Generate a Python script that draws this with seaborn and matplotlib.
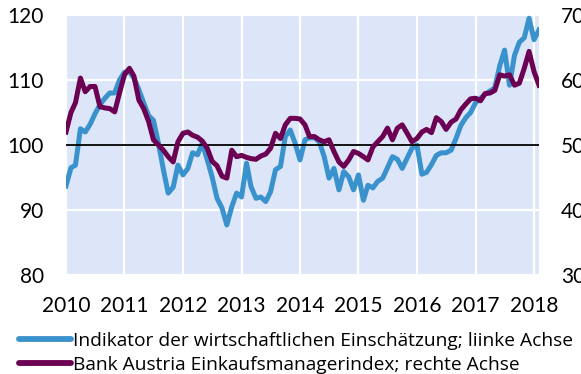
import numpy as np
import pandas as pd
import matplotlib
matplotlib.use("Agg")
import matplotlib.pyplot as plt
import matplotlib.dates as mdates
import seaborn as sns

# Monthly series, January 2010 - February 2018
esi = [93.7, 96.5, 96.9, 102.5, 102.0, 103.2, 104.8, 106.2, 107.2, 108.0, 108.0, 110.0,
       111.2, 111.3, 110.3, 108.5, 106.5, 104.5, 103.8, 100.3, 96.2, 92.6, 93.5, 96.9,
       95.4, 96.4, 98.8, 98.5, 100.3, 97.7, 95.1, 91.8, 90.3, 87.7, 90.5, 92.6,
       92.0, 97.2, 93.6, 91.8, 92.0, 91.3, 92.8, 96.2, 96.7, 101.3, 102.3, 100.3,
       97.7, 100.8, 101.1, 101.1, 100.5, 98.2, 94.9, 96.4, 93.1, 95.9, 95.1, 93.1,
       95.4, 91.5, 93.8, 93.4, 94.4, 94.9, 96.5, 98.2, 97.8, 96.4, 98.0, 99.5,
       100.0, 95.5, 95.8, 97.0, 98.4, 98.8, 98.8, 99.2, 101.0, 103.0, 104.2, 105.0,
       106.5, 107.2, 107.8, 108.3, 108.8, 112.2, 114.6, 109.2, 113.8, 115.8, 116.5, 119.5,
       116.2, 117.7]

pmi = [52.0, 55.0, 56.5, 60.3, 58.2, 59.0, 59.0, 55.9, 55.7, 55.6, 55.1, 58.0,
       60.8, 61.8, 60.6, 56.9, 55.6, 53.6, 50.8, 50.0, 49.2, 48.2, 47.4, 50.5,
       51.8, 52.0, 51.5, 51.2, 50.6, 49.5, 47.5, 46.8, 45.2, 44.9, 49.2, 48.2,
       48.4, 48.1, 47.9, 47.8, 48.3, 48.6, 49.5, 51.8, 51.0, 53.1, 54.1, 54.1,
       54.0, 53.1, 51.3, 51.3, 50.8, 50.5, 50.8, 49.0, 47.4, 46.7, 47.7, 49.0,
       48.7, 48.2, 47.7, 49.7, 50.5, 51.3, 52.6, 50.8, 52.6, 53.1, 51.8, 50.5,
       51.0, 52.0, 52.4, 51.9, 54.2, 53.6, 52.4, 53.5, 54.0, 55.4, 56.3, 57.1,
       57.2, 56.8, 57.9, 58.0, 58.4, 60.8, 60.6, 60.8, 59.2, 59.5, 61.8, 64.4,
       61.3, 59.2]

years = list(range(2010, 2019))
left_ticks = [80, 90, 100, 110, 120]
right_ticks = [30, 40, 50, 60, 70]
label_esi = "Indikator der wirtschaftlichen Einschätzung; liinke Achse"
label_pmi = "Bank Austria Einkaufsmanagerindex; rechte Achse"

dates = pd.date_range("2010-01-01", periods=len(esi), freq="MS")
df = pd.DataFrame({"date": dates, "esi": esi, "pmi": pmi})

c_blue = "#3a92cd"
c_purple = "#6c0052"
bg = "#dce6f8"

plt.rcParams["font.family"] = ["Lato", "DejaVu Sans"]

fig = plt.figure(figsize=(5.81, 3.74), dpi=100)
ax = fig.add_axes([66 / 581, 1 - 275 / 374, (539 - 66) / 581, (275 - 15) / 374])
ax.set_facecolor(bg)

sns.lineplot(data=df, x="date", y="esi", ax=ax, color=c_blue, linewidth=3.6,
             label=label_esi, legend=False)
ax.set_ylim(80, 120)
ax.set_xlim(dates[0], dates[-1])
ax.set_yticks(left_ticks)
ax.axhline(100, color="black", linewidth=1.3, zorder=3)

ax2 = ax.twinx()
sns.lineplot(data=df, x="date", y="pmi", ax=ax2, color=c_purple, linewidth=3.6,
             label=label_pmi, legend=False)
ax2.set_ylim(30, 70)
ax2.set_yticks(right_ticks)
ax2.set_xlim(dates[0], dates[-1])

ax.set_xticks([pd.Timestamp(f"{y}-01-01") for y in years])
ax.xaxis.set_major_formatter(mdates.DateFormatter("%Y"))

ax.grid(True, color="white", linewidth=1.6)
ax.set_axisbelow(True)
for a in (ax, ax2):
    for s in a.spines.values():
        s.set_visible(False)
    a.set_xlabel("")
    a.set_ylabel("")
ax.tick_params(axis="both", length=0, labelsize=15, colors="black")
ax.tick_params(axis="y", pad=16)
ax.tick_params(axis="x", pad=15)
# right-hand labels run off the figure edge, as in the published layout
ax2.tick_params(axis="y", length=0, labelsize=15, pad=16, colors="black")

handles = ax.get_lines()[:1] + ax2.get_lines()[:1]
leg = fig.legend(handles, [label_esi, label_pmi], loc="upper left",
                 bbox_to_anchor=(19 / 581, 1 - 332 / 374), frameon=False,
                 prop={"family": "Open Sans", "size": 13.8},
                 handlelength=2.7, handletextpad=0.1,
                 labelspacing=0.3, borderaxespad=0, borderpad=0)
for h in leg.legend_handles:
    h.set_linewidth(4.2)
    h.set_solid_capstyle("round")

fig.savefig("out.png", dpi=100)
